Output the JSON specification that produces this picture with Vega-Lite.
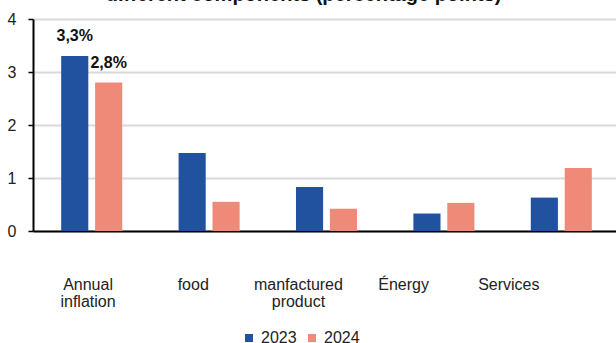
{
  "$schema": "https://vega.github.io/schema/vega-lite/v6.json",
  "autosize": "none",
  "padding": {"left": 33, "top": 19, "right": 0, "bottom": 112},
  "width": 587,
  "height": 212,
  "title": {
    "text": "different components (percentage points)",
    "font": "Liberation Sans",
    "fontSize": 20,
    "fontWeight": "bold",
    "color": "#111111",
    "baseline": "alphabetic",
    "anchor": "middle",
    "frame": "group",
    "offset": -10,
    "dx": -23
  },
  "config": {
    "view": {"stroke": null},
    "font": "Liberation Sans",
    "axis": {"labelFont": "Liberation Sans", "labelColor": "#222222", "labelFontSize": 16}
  },
  "data": {
    "values": [
      {"category": "Annual inflation", "year": "2023", "value": 3.3, "label": "3,3%"},
      {"category": "Annual inflation", "year": "2024", "value": 2.8, "label": "2,8%"},
      {"category": "food", "year": "2023", "value": 1.47},
      {"category": "food", "year": "2024", "value": 0.55},
      {"category": "manfactured product", "year": "2023", "value": 0.83},
      {"category": "manfactured product", "year": "2024", "value": 0.42},
      {"category": "Énergy", "year": "2023", "value": 0.33},
      {"category": "Énergy", "year": "2024", "value": 0.53},
      {"category": "Services", "year": "2023", "value": 0.63},
      {"category": "Services", "year": "2024", "value": 1.19}
    ]
  },
  "layer": [
    {
      "encoding": {
        "x": {
          "field": "category",
          "type": "nominal",
          "sort": ["Annual inflation", "food", "manfactured product", "Énergy", "Services"],
          "scale": {"paddingInner": 0.48, "paddingOuter": 0.24},
          "axis": {
            "orient": "bottom",
            "title": null,
            "labels": false,
            "ticks": false,
            "grid": false,
            "domainColor": "#000000",
            "domainWidth": 2
          }
        },
        "xOffset": {
          "field": "year",
          "type": "nominal",
          "scale": {"paddingInner": 0.2, "paddingOuter": 0}
        },
        "y": {
          "field": "value",
          "type": "quantitative",
          "scale": {"domain": [0, 4], "nice": false},
          "axis": {
            "title": null,
            "values": [0, 1, 2, 3, 4],
            "format": "d",
            "domainColor": "#000000",
            "domainWidth": 2,
            "tickColor": "#000000",
            "tickSize": 5,
            "tickWidth": 1.5,
            "labelPadding": 12,
            "gridColor": "#d9d9d9",
            "gridWidth": 2
          }
        }
      },
      "layer": [
        {
          "mark": {"type": "bar"},
          "encoding": {
            "color": {
              "field": "year",
              "type": "nominal",
              "scale": {"domain": ["2023", "2024"], "range": ["#2152A0", "#F08A78"]},
              "legend": {
                "title": null,
                "orient": "none",
                "legendX": 208,
                "legendY": 311,
                "direction": "horizontal",
                "symbolType": "square",
                "symbolSize": 64,
                "symbolStrokeWidth": 0,
                "labelFont": "Liberation Sans",
                "labelFontSize": 16,
                "labelColor": "#222222",
                "labelOffset": 4,
                "columnPadding": 7
              }
            }
          }
        },
        {
          "transform": [{"filter": "isValid(datum.label)"}],
          "mark": {
            "type": "text",
            "font": "Liberation Sans",
            "fontSize": 16,
            "fontWeight": "bold",
            "color": "#111111",
            "baseline": "bottom",
            "dy": -12
          },
          "encoding": {"text": {"field": "label"}}
        }
      ]
    },
    {
      "mark": {"type": "text", "text": ""},
      "encoding": {
        "x": {
          "field": "category",
          "type": "nominal",
          "sort": ["Annual inflation", "food", "manfactured product", "Énergy", "Services"],
          "scale": {"type": "band", "paddingInner": 0, "paddingOuter": 0.29, "align": 0.04},
          "axis": {
            "orient": "bottom",
            "title": null,
            "domain": false,
            "ticks": false,
            "grid": false,
            "labelAngle": 0,
            "labelBaseline": "top",
            "labelPadding": 45,
            "labelLineHeight": 17,
            "labelExpr": "split(datum.value, ' ')"
          }
        }
      }
    }
  ],
  "resolve": {"scale": {"x": "independent"}, "axis": {"x": "independent"}}
}
